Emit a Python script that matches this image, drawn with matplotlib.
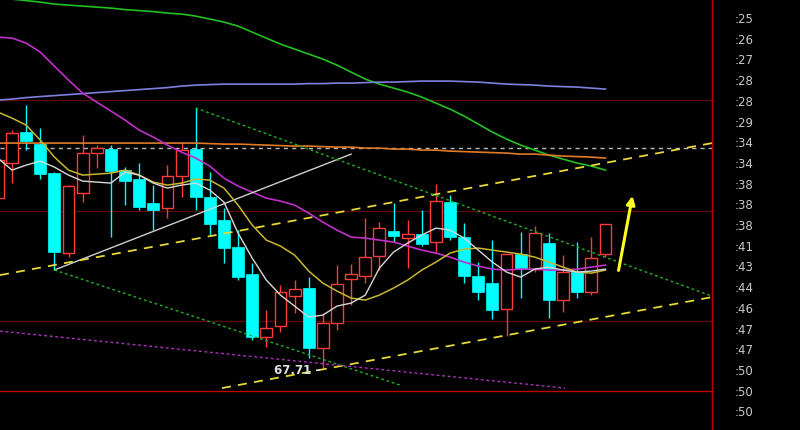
import matplotlib
matplotlib.use("Agg")
import matplotlib.pyplot as plt
import numpy as np
from matplotlib.patches import Rectangle

# ---------------- data ----------------
idx = list(range(-1, 43))
opens = [84.71, 88.21, 91.31, 90.11, 87.21, 79.21, 85.21, 89.21, 89.61, 87.51, 86.61, 84.21, 83.71,
         86.91, 89.61, 84.81, 82.51, 79.81, 77.11, 70.81, 71.91, 74.91, 75.71, 69.71, 72.21, 76.61,
         76.91, 78.91, 81.41, 80.71, 81.11, 80.31, 84.31, 80.81, 76.91, 76.21, 73.61, 79.11, 77.61,
         80.21, 74.51, 77.31, 75.31, 79.11]
closes = [88.51, 91.21, 90.41, 87.11, 79.31, 85.91, 89.21, 89.71, 87.41, 86.41, 83.81, 83.51, 86.91,
          89.51, 84.81, 82.11, 79.71, 76.81, 70.81, 71.71, 75.31, 75.61, 69.71, 72.21, 76.11, 77.11,
          78.81, 81.71, 80.91, 81.11, 80.11, 84.41, 80.81, 76.91, 75.31, 73.51, 79.11, 77.61, 81.21,
          74.51, 77.31, 75.31, 78.71, 82.11]
highs = [89.01, 91.51, 94.01, 91.71, 87.31, 86.01, 91.01, 90.01, 90.01, 87.81, 88.21, 86.01, 88.01,
         90.31, 93.71, 87.31, 83.71, 81.51, 78.21, 73.51, 76.01, 76.51, 76.81, 73.21, 78.01, 78.11,
         82.71, 82.31, 84.21, 82.51, 83.51, 86.11, 85.01, 82.21, 78.31, 80.51, 79.11, 81.31, 81.91,
         81.21, 79.01, 80.31, 80.81, 82.11]
lows = [84.01, 86.21, 89.51, 86.61, 77.51, 78.81, 84.31, 87.71, 80.81, 84.01, 83.51, 81.51, 82.71,
        84.81, 83.51, 81.01, 78.21, 76.51, 70.51, 69.81, 71.31, 73.21, 68.71, 67.71, 71.51, 74.01,
        76.21, 77.51, 80.31, 77.71, 79.91, 79.31, 80.51, 76.21, 74.51, 72.61, 70.91, 74.71, 77.31,
        72.71, 73.31, 74.71, 75.01, 78.81]

ma_white = [88.7, 87.5, 88.0, 88.4, 87.8, 87.0, 86.4, 86.3, 86.2, 87.3, 87.0, 86.2, 85.7, 86.0, 86.2,
            85.5, 84.3, 81.2, 78.7, 76.5, 75.0, 73.9, 72.8, 73.0, 73.9, 74.2, 75.0, 77.7, 79.3, 80.2,
            81.0, 81.7, 81.5, 80.7, 79.5, 78.3, 77.3, 76.8, 77.6, 77.8, 77.5, 77.3, 77.4, 77.6]
ma_yellow = [93.3, 92.7, 92.0, 90.5, 88.8, 87.5, 87.0, 87.1, 87.2, 87.5, 87.0, 86.3, 86.0, 86.2, 86.6,
             86.5, 85.7, 84.0, 82.0, 80.5, 79.9, 79.0, 77.4, 76.2, 75.4, 74.7, 74.5, 75.0, 75.7, 76.5,
             77.5, 78.3, 79.2, 79.6, 79.7, 79.5, 79.3, 79.1, 78.8, 78.3, 77.8, 77.3, 77.2, 77.5]
ma_magenta = [100.8, 100.7, 100.2, 99.3, 97.9, 96.5, 95.2, 94.3, 93.4, 92.5, 91.5, 90.8, 90.0, 89.3,
              88.7, 87.9, 86.7, 85.9, 85.3, 84.7, 84.4, 84.0, 83.2, 82.3, 81.5, 80.8, 80.7, 80.5,
              80.3, 79.9, 79.5, 79.2, 78.8, 78.3, 77.9, 77.6, 77.5, 77.6, 77.6, 77.5, 77.5, 77.6,
              77.8, 78.0]
ma_orange = [90.2] * 15 + [90.15, 90.1, 90.1, 90.05, 90.0, 89.95, 89.9, 89.9, 89.85, 89.8, 89.8,
                           89.7, 89.7, 89.6, 89.6, 89.5, 89.5, 89.4, 89.35, 89.3, 89.25, 89.2,
                           89.1, 89.1, 89.0, 88.9, 88.85, 88.8, 88.7]
ma_lavender = [94.5, 94.6, 94.75, 94.85, 94.95, 95.05, 95.15, 95.25, 95.35, 95.45, 95.55, 95.65,
               95.75, 95.9, 96.0, 96.05, 96.1, 96.1, 96.1, 96.1, 96.1, 96.1, 96.15, 96.15, 96.2,
               96.2, 96.25, 96.3, 96.3, 96.35, 96.4, 96.4, 96.4, 96.35, 96.3, 96.2, 96.1, 96.05,
               96.0, 95.9, 95.85, 95.8, 95.7, 95.6]
ma_green = [104.8, 104.6, 104.45, 104.3, 104.1, 104.0, 103.9, 103.8, 103.7, 103.55, 103.45, 103.35,
            103.2, 103.1, 102.9, 102.6, 102.3, 101.9, 101.3, 100.7, 100.1, 99.6, 99.1, 98.6, 98.0,
            97.3, 96.6, 96.1, 95.7, 95.3, 94.8, 94.2, 93.6, 92.9, 92.1, 91.3, 90.6, 90.0, 89.5, 89.0,
            88.6, 88.2, 87.9, 87.5]

grid_levels = [94.5, 83.4, 72.4]
bottom_level = 65.4
dashed_level = 89.7

trend_gray = [(3, 77.51), (24, 89.1)]
chan_top = [(-0.85, 77.0), (49.54, 90.2)]
chan_bottom = [(14.86, 65.7), (49.54, 74.8)]
down_top = [(13, 93.71), (49.54, 74.9)]
down_bottom = [(3, 77.51), (27.46, 66.0)]
magenta_dash = [(-0.85, 71.4), (39.14, 65.7)]
arrow_from = (42.89, 77.2)
arrow_to = (43.95, 85.2)

tick_prices = [102.71, 100.64, 98.57, 96.50, 94.43, 92.36, 90.29, 88.22, 86.15, 84.08,
               82.01, 79.94, 77.87, 75.80, 73.73, 71.66, 69.59, 67.52, 65.45, 63.38]
tick_labels = [":25", ":26", ":27", ":28", ":28", ":29", ":34", ":34", ":38", ":38", ":38",
               ":41", ":43", ":44", ":46", ":47", ":47", ":50", ":50", ":50"]

# ---------------- figure ----------------
fig = plt.figure(figsize=(8, 4.3), dpi=100, facecolor="black")
ax = fig.add_axes([0, 0, 0.89, 1])
ax.set_facecolor("black")
ax.set_xlim(-0.85, 49.54)
ax.set_ylim(61.51, 104.51)

for lv in grid_levels:
    ax.axhline(lv, color="#5a0a0a", lw=1, zorder=1)
ax.axhline(bottom_level, color="#c00000", lw=1, zorder=1)
ax.axhline(dashed_level, color="#b8b8b8", lw=1, ls=(0, (3, 3)), zorder=1)

up_col = "#ff3a3a"
dn_col = "#00ffff"
w = 0.84
for i, o, h, l, c in zip(idx, opens, highs, lows, closes):
    if c >= o:
        ax.vlines(i, l, h, color=up_col, lw=1, zorder=2)
        ax.add_patch(Rectangle((i - w / 2, o), w, c - o, facecolor="black",
                               edgecolor=up_col, lw=1, zorder=2.5))
    else:
        ax.vlines(i, l, h, color=dn_col, lw=1, zorder=2)
        ax.add_patch(Rectangle((i - w / 2, c), w, o - c, facecolor=dn_col,
                               edgecolor=dn_col, lw=0.5, zorder=2.5))

ax.plot(idx, ma_green, color="#22c022", lw=1.2, zorder=3)
ax.plot(idx, ma_lavender, color="#7f7fe0", lw=1.2, zorder=3)
ax.plot(idx, ma_orange, color="#e07a28", lw=1.2, zorder=3)
ax.plot(idx, ma_magenta, color="#c030c8", lw=1.2, zorder=3)
ax.plot(idx, ma_yellow, color="#c8b830", lw=1.1, zorder=3.2)
ax.plot(idx, ma_white, color="#d8d8d8", lw=1.0, zorder=3.3)

def seg(pts, **kw):
    xs, ys = zip(*pts)
    ax.plot(xs, ys, **kw)

seg(trend_gray, color="#d0d0d0", lw=1.0, zorder=3)
seg(chan_top, color="#e8d838", lw=1.3, ls=(0, (5, 4)), zorder=3)
seg(chan_bottom, color="#e8d838", lw=1.3, ls=(0, (5, 4)), zorder=3)
seg(down_top, color="#22b022", lw=1.0, ls=(0, (2, 2)), zorder=3)
seg(down_bottom, color="#22b022", lw=1.0, ls=(0, (2, 2)), zorder=3)
seg(magenta_dash, color="#b030c0", lw=1.0, ls=(0, (2, 2)), zorder=3)

ax.annotate("", xy=arrow_to, xytext=arrow_from,
            arrowprops=dict(arrowstyle="-|>", color="#ffff20", lw=2.2, mutation_scale=12),
            zorder=4)

k_low = idx.index(22)
ax.annotate(f"{lows[k_low]:.2f} -", xy=(22, lows[k_low]), xytext=(-2, -2),
            textcoords="offset points", ha="right", va="center",
            color="#e0e0e0", fontsize=8.5, fontweight="bold", zorder=5)

for s in ["top", "left", "bottom"]:
    ax.spines[s].set_visible(False)
ax.spines["right"].set_color("#c00000")
ax.spines["right"].set_linewidth(1)
ax.set_xticks([])
ax.yaxis.tick_right()
ax.set_yticks(tick_prices)
ax.set_yticklabels(tick_labels)
ax.tick_params(axis="y", length=0, pad=16, labelcolor="#c8c8c8", labelsize=8.5)

fig.savefig("out.png", dpi=100, facecolor="black")
